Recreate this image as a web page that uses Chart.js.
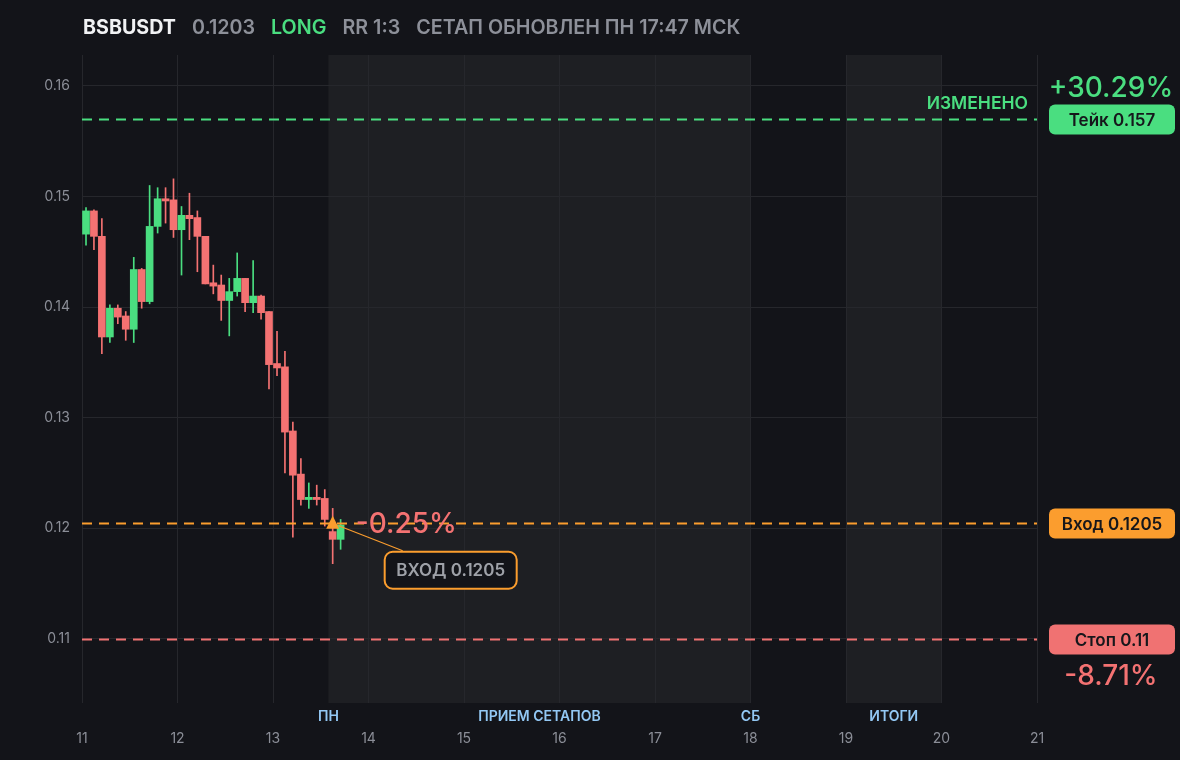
<!DOCTYPE html>
<html>
<head>
<meta charset="utf-8">
<script src="https://cdn.jsdelivr.net/npm/chart.js@4.4.0/dist/chart.umd.min.js"></script>
<style>
  html, body { margin: 0; background: #131419; }
  canvas { display: block; }
</style>
</head>
<body>
<canvas id="chart" width="1180" height="760"></canvas>
<script>
// 2h candles, x = day of month (candle centre)
const candleTimes = [11.042, 11.125, 11.208, 11.292, 11.375, 11.458, 11.542, 11.625, 11.708, 11.792, 11.875, 11.958,
  12.042, 12.125, 12.208, 12.292, 12.375, 12.458, 12.542, 12.625, 12.708, 12.792, 12.875, 12.958,
  13.042, 13.125, 13.208, 13.292, 13.375, 13.458, 13.542, 13.625, 13.708];
const opens = [0.1466, 0.1487, 0.1464, 0.1373, 0.1399, 0.1392, 0.1380, 0.1434, 0.1405, 0.1473, 0.1498, 0.1497,
  0.1470, 0.1483, 0.1481, 0.1464, 0.1422, 0.1420, 0.1406, 0.1414, 0.1426, 0.1404, 0.1410, 0.1396,
  0.1349, 0.1346, 0.1288, 0.1249, 0.1226, 0.1228, 0.1227, 0.1197, 0.1190];
const highs = [0.1490, 0.1488, 0.1480, 0.1402, 0.1402, 0.1396, 0.1445, 0.1435, 0.1510, 0.1508, 0.1508, 0.1516,
  0.1491, 0.1503, 0.1487, 0.1464, 0.1438, 0.1429, 0.1426, 0.1449, 0.1426, 0.1442, 0.1411, 0.1396,
  0.1378, 0.1360, 0.1296, 0.1263, 0.1241, 0.1239, 0.1235, 0.1218, 0.1208];
const lows = [0.1456, 0.1452, 0.1358, 0.1368, 0.1385, 0.1370, 0.1368, 0.1399, 0.1403, 0.1467, 0.1476, 0.1463,
  0.1429, 0.1461, 0.1432, 0.1421, 0.1412, 0.1388, 0.1374, 0.1410, 0.1396, 0.1395, 0.1389, 0.1326,
  0.1338, 0.1250, 0.1192, 0.1221, 0.1218, 0.1221, 0.1202, 0.1168, 0.1181];
const closes = [0.1487, 0.1464, 0.1373, 0.1399, 0.1391, 0.1380, 0.1434, 0.1405, 0.1473, 0.1498, 0.1496, 0.1470,
  0.1483, 0.1480, 0.1464, 0.1421, 0.1419, 0.1406, 0.1414, 0.1426, 0.1404, 0.1410, 0.1395, 0.1348,
  0.1345, 0.1287, 0.1248, 0.1226, 0.1228, 0.1226, 0.1208, 0.1190, 0.1203];

const dayTicks = [11, 12, 13, 14, 15, 16, 17, 18, 19, 20, 21];
const priceTicks = [0.11, 0.12, 0.13, 0.14, 0.15, 0.16];

// shaded sessions and their captions
const bandStarts = [13.58, 19];
const bandEnds = [18, 20];
const sessionLabels = ['ПН', 'ПРИЕМ СЕТАПОВ', 'СБ', 'ИТОГИ'];
const sessionLabelDays = [13.58, 15.79, 18, 19.5];

// setup levels
const takePrice = 0.157;
const entryPrice = 0.1205;
const stopPrice = 0.11;
const entryTime = 13.625;
const takePct = '+30.29%';
const entryPct = '-0.25%';
const stopPct = '-8.71%';

const title = [
  { text: 'BSBUSDT', color: '#f1f2f4' },
  { text: '0.1203', color: '#8d9099' },
  { text: 'LONG', color: '#4ade80' },
  { text: 'RR 1:3', color: '#8d9099' },
  { text: 'СЕТАП ОБНОВЛЕН ПН 17:47 МСК', color: '#8d9099' },
];

const GREEN = '#4ade80';
const RED = '#f47272';
const ORANGE = '#fb9d2e';
const GRID = '#26272c';
const TICK = '#8b8e97';

const candleColors = opens.map((o, i) => closes[i] >= o ? GREEN : RED);

function roundBox(ctx, x, y, w, h, r) {
  ctx.beginPath();
  ctx.roundRect(x, y, w, h, r);
}

const overlay = {
  id: 'overlay',
  beforeDraw(chart) {
    const { ctx, chartArea, scales } = chart;
    ctx.save();
    ctx.fillStyle = '#1e1f23';
    bandStarts.forEach((s, i) => {
      const x0 = scales.x.getPixelForValue(s);
      const x1 = scales.x.getPixelForValue(bandEnds[i]);
      ctx.fillRect(x0, chartArea.top, x1 - x0, chartArea.bottom - chartArea.top);
    });
    ctx.restore();
  },
  afterDraw(chart) {
    const { ctx, chartArea, scales } = chart;
    const x = scales.x, y = scales.y;
    ctx.save();

    // title row
    ctx.textBaseline = 'middle';
    ctx.textAlign = 'left';
    let tx = 83;
    title.forEach((t, i) => {
      ctx.font = (i === 0 ? '700' : '600') + ' 19.7px Inter';
      ctx.fillStyle = t.color;
      ctx.fillText(t.text, tx, 28);
      tx += ctx.measureText(t.text).width + 16;
    });

    // level lines
    const levels = [
      { p: takePrice, c: GREEN, badge: 'Тейк 0.157' },
      { p: entryPrice, c: ORANGE, badge: 'Вход 0.1205' },
      { p: stopPrice, c: '#f07272', badge: 'Стоп 0.11' },
    ];
    levels.forEach(l => {
      const py = Math.round(y.getPixelForValue(l.p)) + 0.5;
      ctx.strokeStyle = l.c;
      ctx.lineWidth = 2;
      ctx.setLineDash([10, 7]);
      ctx.beginPath();
      ctx.moveTo(chartArea.left, py);
      ctx.lineTo(chartArea.right, py);
      ctx.stroke();
      ctx.setLineDash([]);
      ctx.fillStyle = l.c;
      roundBox(ctx, 1049, py - 15, 126, 30, 6);
      ctx.fill();
      ctx.fillStyle = '#16171b';
      ctx.font = '600 17px Inter';
      ctx.textAlign = 'center';
      ctx.fillText(l.badge, 1112, py + 1);
    });

    const takeY = y.getPixelForValue(takePrice);
    const stopY = y.getPixelForValue(stopPrice);
    ctx.font = '500 28px Inter';
    ctx.textAlign = 'center';
    ctx.fillStyle = GREEN;
    ctx.fillText(takePct, 1111, takeY - 31);
    ctx.fillStyle = RED;
    ctx.fillText(stopPct, 1111, stopY + 38);

    ctx.font = '600 17.5px Inter';
    ctx.textAlign = 'right';
    ctx.fillStyle = GREEN;
    ctx.fillText('ИЗМЕНЕНО', 1028, takeY - 15);

    // entry marker and callout
    const ex = x.getPixelForValue(entryTime);
    const ey = y.getPixelForValue(entryPrice);
    ctx.strokeStyle = ORANGE;
    ctx.lineWidth = 1.2;
    ctx.beginPath();
    ctx.moveTo(ex + 6, ey + 3);
    ctx.lineTo(ex + 70, ey + 28);
    ctx.stroke();
    ctx.fillStyle = ORANGE;
    ctx.beginPath();
    ctx.moveTo(ex, ey - 7);
    ctx.lineTo(ex + 6.5, ey + 6);
    ctx.lineTo(ex - 6.5, ey + 6);
    ctx.closePath();
    ctx.fill();

    ctx.fillStyle = '#131419';
    ctx.lineWidth = 2;
    roundBox(ctx, ex + 52, ey + 29, 132, 37, 8);
    ctx.fill();
    ctx.stroke();
    ctx.fillStyle = '#9ea1a8';
    ctx.font = '600 17px Inter';
    ctx.textAlign = 'center';
    ctx.fillText('ВХОД 0.1205', ex + 118, ey + 48);

    ctx.fillStyle = RED;
    ctx.font = '500 28px Inter';
    ctx.textAlign = 'left';
    ctx.fillText(entryPct, ex + 23, ey + 2);

    // session captions under the plot
    ctx.fillStyle = '#93c8f4';
    ctx.font = '600 14px Inter';
    ctx.textAlign = 'center';
    sessionLabels.forEach((s, i) => {
      ctx.fillText(s, x.getPixelForValue(sessionLabelDays[i]), chartArea.bottom + 14);
    });

    ctx.restore();
  }
};

new Chart(document.getElementById('chart'), {
  type: 'bar',
  data: {
    datasets: [
      {
        data: candleTimes.map((t, i) => ({ x: t, y: [lows[i], highs[i]] })),
        backgroundColor: candleColors,
        barThickness: 1,
        grouped: false,
        order: 2,
      },
      {
        data: candleTimes.map((t, i) => ({ x: t, y: [opens[i], closes[i]] })),
        backgroundColor: candleColors,
        barThickness: 7,
        minBarLength: 2,
        grouped: false,
        order: 1,
      },
    ],
  },
  options: {
    responsive: false,
    animation: false,
    layout: { padding: { top: 55, right: 143, bottom: 0, left: 0 } },
    plugins: { legend: { display: false }, tooltip: { enabled: false } },
    scales: {
      x: {
        type: 'linear',
        min: 11,
        max: 21,
        offset: false,
        afterBuildTicks: s => { s.ticks = dayTicks.map(v => ({ value: v })); },
        afterFit: s => { s.height = 57; },
        grid: { color: GRID, drawTicks: false, offset: false },
        border: { display: false },
        ticks: { color: TICK, font: { family: 'Inter', size: 14 }, padding: 27, callback: v => String(v) },
      },
      y: {
        min: 0.1042,
        max: 0.1628,
        afterBuildTicks: s => { s.ticks = priceTicks.map(v => ({ value: v })); },
        afterFit: s => { s.width = 82; },
        grid: { color: GRID, drawTicks: false },
        border: { display: false },
        ticks: { color: TICK, font: { family: 'Inter', size: 14 }, padding: 12, callback: v => String(v) },
      },
    },
  },
  plugins: [overlay],
});
</script>
</body>
</html>
